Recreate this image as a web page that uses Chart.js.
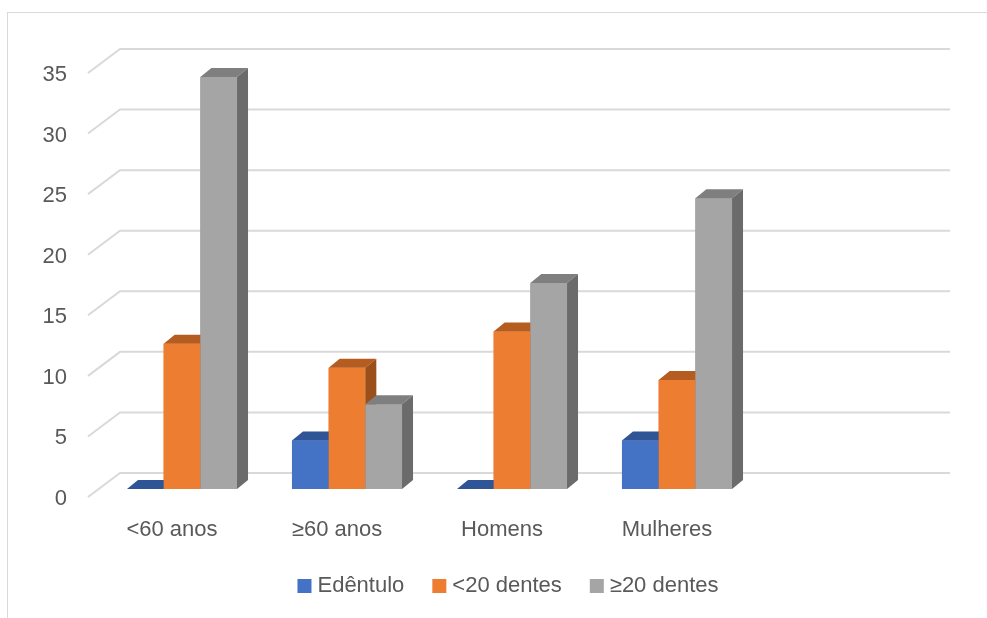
<!DOCTYPE html>
<html>
<head>
<meta charset="utf-8">
<script src="https://cdn.jsdelivr.net/npm/chart.js@4"></script>
<style>
  html, body { margin: 0; padding: 0; background: #fff; }
  #wrap { position: relative; width: 987px; height: 618px; overflow: hidden; }
  #frame { position: absolute; left: 7px; top: 12px; width: 1000px; height: 700px; border: 1px solid #d9d9d9; box-sizing: border-box; }
  canvas { position: absolute; left: 0; top: 0; }
</style>
</head>
<body>
<div id="wrap"><div id="frame"></div><canvas id="c" width="987" height="618"></canvas></div>
<script>
// Dentition by age group and sex, drawn as Excel-style 3D clustered columns.
const categories = ["<60 anos", "≥60 anos", "Homens", "Mulheres"];
const edentulo = [0, 4, 0, 4];
const menos20 = [12, 10, 13, 9];
const mais20 = [34, 7, 17, 24];
const yTicks = [0, 5, 10, 15, 20, 25, 30, 35];
const seriesNames = ["Edêntulo", "<20 dentes", "≥20 dentes"];

const FONT = '"Liberation Sans", Arial, sans-serif';
const TXT = "#595959";
const front = ["#4472c4", "#ed7d31", "#a5a5a5"];
const top_ = ["#2f5597", "#b55d20", "#7f7f7f"];
const side = ["#2a4b86", "#9b4f1b", "#6b6b6b"];
const DX = 11, DY = 9;   // column depth offset

// back wall gridlines with the slanted floor-edge segment on the left
const wallGrid = {
  id: "wallGrid",
  beforeDatasetsDraw(chart) {
    const {ctx, chartArea} = chart, y = chart.scales.y, L = chartArea.left;
    ctx.save();
    ctx.strokeStyle = "#d9d9d9"; ctx.lineWidth = 2;
    yTicks.forEach(v => {
      const p = y.getPixelForValue(v);
      ctx.beginPath();
      ctx.moveTo(L - 11.5, p + 8);
      ctx.lineTo(L + 20.5, p - 16);
      ctx.lineTo(chartArea.right + 190.5, p - 16);
      ctx.stroke();
    });
    ctx.restore();
  }
};

// repaint each cluster left to right: front (library element), then top and right faces,
// so a column's faces hide the side of its left neighbour
const columnFaces = {
  id: "columnFaces",
  afterDatasetsDraw(chart) {
    const {ctx} = chart;
    const metas = chart.data.datasets.map((d, i) => chart.getDatasetMeta(i));
    ctx.save();
    categories.forEach((c, j) => {
      metas.forEach((meta, i) => {
        const bar = meta.data[j];
        bar.draw(ctx, chart.chartArea);
        const {x, y, base, width} = bar.getProps(["x", "y", "base", "width"], true);
        const l = x - width / 2, r = x + width / 2;
        ctx.fillStyle = top_[i];
        ctx.beginPath();
        ctx.moveTo(l, y); ctx.lineTo(r, y); ctx.lineTo(r + DX, y - DY); ctx.lineTo(l + DX, y - DY);
        ctx.closePath(); ctx.fill();
        if (base - y > 0.5) {
          ctx.fillStyle = side[i];
          ctx.beginPath();
          ctx.moveTo(r, y); ctx.lineTo(r + DX, y - DY); ctx.lineTo(r + DX, base - DY); ctx.lineTo(r, base);
          ctx.closePath(); ctx.fill();
        }
      });
    });
    ctx.restore();
  }
};

// legend row under the axis
const bottomLegend = {
  id: "bottomLegend",
  afterDraw(chart) {
    const {ctx} = chart;
    ctx.save();
    ctx.font = "22px " + FONT;
    const box = 14, gapTxt = 6, gapItem = 28;
    const widths = seriesNames.map(n => box + gapTxt + ctx.measureText(n).width);
    const total = widths.reduce((a, b) => a + b, 0) + gapItem * (widths.length - 1);
    let x = 508 - total / 2;
    const cy = 586;
    ctx.textBaseline = "middle";
    seriesNames.forEach((n, k) => {
      ctx.fillStyle = front[k];
      ctx.fillRect(x, cy - 7, box, box);
      ctx.fillStyle = TXT;
      ctx.fillText(n, x + box + gapTxt, cy);
      x += widths[k] + gapItem;
    });
    ctx.restore();
  }
};

const ds = (label, data, k) => ({
  label, data, backgroundColor: front[k], borderWidth: 0,
  categoryPercentage: 0.667, barPercentage: 1
});

new Chart(document.getElementById("c"), {
  type: "bar",
  data: {
    labels: categories,
    datasets: [ds(seriesNames[0], edentulo, 0), ds(seriesNames[1], menos20, 1), ds(seriesNames[2], mais20, 2)]
  },
  options: {
    responsive: false, animation: false,
    layout: {padding: {top: 65, right: 227.5, left: 0, bottom: 0}},
    plugins: {legend: {display: false}, tooltip: {enabled: false}},
    scales: {
      x: {
        grid: {display: false}, border: {display: false},
        ticks: {color: TXT, font: {family: FONT, size: 22}, padding: 20, labelOffset: -10, maxRotation: 0},
        afterFit: s => { s.height = 129; }
      },
      y: {
        min: 0, max: 35,
        grid: {display: false}, border: {display: false},
        ticks: {color: TXT, font: {family: FONT, size: 22}, padding: 24.5, labelOffset: 10},
        afterBuildTicks: s => { s.ticks = yTicks.map(v => ({value: v})); },
        afterFit: s => { s.width = 99.5; }
      }
    }
  },
  plugins: [wallGrid, columnFaces, bottomLegend]
});
</script>
</body>
</html>
